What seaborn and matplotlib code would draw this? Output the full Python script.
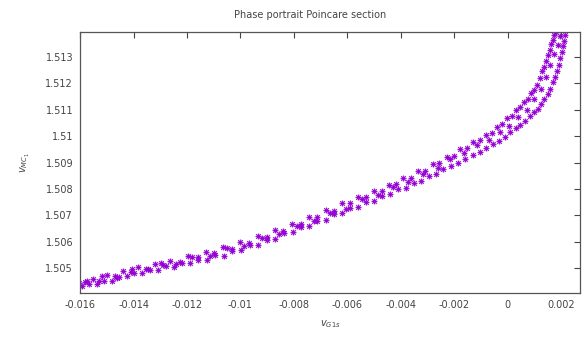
import matplotlib
matplotlib.use("Agg")
import matplotlib.pyplot as plt
import seaborn as sns
import pandas as pd

upper_x = [-0.01605, -0.01580, -0.01552, -0.01530, -0.01498, -0.01470, -0.01441, -0.01410, -0.01385, -0.01352,
           -0.01320, -0.01290, -0.01262, -0.01228, -0.01195, -0.01160, -0.01130, -0.01098, -0.01065, -0.01030,
           -0.01000, -0.00968, -0.00935, -0.00902, -0.00870, -0.00840, -0.00808, -0.00775, -0.00742, -0.00712,
           -0.00680, -0.00650, -0.00618, -0.00590, -0.00560, -0.00530, -0.00500, -0.00472, -0.00445, -0.00418,
           -0.00390, -0.00362, -0.00335, -0.00308, -0.00280, -0.00255, -0.00228, -0.00202, -0.00178, -0.00152,
           -0.00128, -0.00105, -0.00082, -0.00060, -0.00040, -0.00020, -0.00002, 0.00015, 0.00032, 0.00048,
           0.00062, 0.00075, 0.00088, 0.00100, 0.00110, 0.00120, 0.00130, 0.00138, 0.00145, 0.00152,
           0.00158, 0.00164, 0.00170, 0.00175, 0.00180]
upper_y = [1.50442, 1.50446, 1.50458, 1.50452, 1.50474, 1.50468, 1.50490, 1.50484, 1.50503, 1.50498,
           1.50515, 1.50510, 1.50528, 1.50522, 1.50544, 1.50540, 1.50560, 1.50556, 1.50578, 1.50572,
           1.50597, 1.50594, 1.50620, 1.50616, 1.50644, 1.50641, 1.50668, 1.50667, 1.50693, 1.50692,
           1.50719, 1.50718, 1.50745, 1.50745, 1.50769, 1.50768, 1.50793, 1.50793, 1.50816, 1.50817,
           1.50840, 1.50842, 1.50866, 1.50869, 1.50893, 1.50897, 1.50921, 1.50926, 1.50950, 1.50954,
           1.50978, 1.50984, 1.51006, 1.51013, 1.51036, 1.51046, 1.51068, 1.51078, 1.51100, 1.51112,
           1.51130, 1.51142, 1.51163, 1.51176, 1.51195, 1.51220, 1.51246, 1.51264, 1.51285, 1.51308,
           1.51328, 1.51350, 1.51366, 1.51382, 1.51395]

lower_x = [-0.01592, -0.01565, -0.01538, -0.01510, -0.01482, -0.01455, -0.01425, -0.01398, -0.01368, -0.01340,
           -0.01310, -0.01280, -0.01250, -0.01220, -0.01188, -0.01158, -0.01125, -0.01095, -0.01062, -0.01030,
           -0.00998, -0.00965, -0.00935, -0.00902, -0.00870, -0.00838, -0.00805, -0.00775, -0.00742, -0.00712,
           -0.00680, -0.00650, -0.00618, -0.00590, -0.00560, -0.00530, -0.00500, -0.00470, -0.00440, -0.00412,
           -0.00382, -0.00352, -0.00325, -0.00296, -0.00268, -0.00240, -0.00212, -0.00185, -0.00158, -0.00130,
           -0.00105, -0.00080, -0.00055, -0.00032, -0.00010, 0.00010, 0.00030, 0.00048, 0.00065, 0.00082,
           0.00098, 0.00112, 0.00125, 0.00138, 0.00150, 0.00160, 0.00170, 0.00178, 0.00186, 0.00192,
           0.00198, 0.00204, 0.00208, 0.00212, 0.00216]
lower_y = [1.50430, 1.50438, 1.50440, 1.50452, 1.50452, 1.50466, 1.50468, 1.50480, 1.50482, 1.50494,
           1.50492, 1.50506, 1.50505, 1.50520, 1.50518, 1.50532, 1.50530, 1.50548, 1.50547, 1.50566,
           1.50567, 1.50588, 1.50588, 1.50608, 1.50611, 1.50632, 1.50636, 1.50656, 1.50659, 1.50680,
           1.50682, 1.50703, 1.50707, 1.50727, 1.50731, 1.50750, 1.50755, 1.50774, 1.50780, 1.50798,
           1.50805, 1.50822, 1.50831, 1.50848, 1.50858, 1.50874, 1.50886, 1.50900, 1.50913, 1.50928,
           1.50941, 1.50955, 1.50969, 1.50982, 1.50997, 1.51014, 1.51029, 1.51043, 1.51059, 1.51075,
           1.51090, 1.51103, 1.51121, 1.51141, 1.51160, 1.51180, 1.51205, 1.51226, 1.51246, 1.51270,
           1.51295, 1.51318, 1.51340, 1.51362, 1.51384]

mid_x = [-0.01575, -0.01520, -0.01462, -0.01405, -0.01345, -0.01298, -0.01240, -0.01180, -0.01115, -0.01050,
         -0.00985, -0.00920, -0.00855, -0.00790, -0.00725, -0.00665, -0.00605, -0.00545, -0.00485, -0.00430,
         -0.00372, -0.00318, -0.00262, -0.00215, -0.00165, -0.00115, -0.00070, -0.00030, 0.00005, 0.00040,
         0.00072, 0.00100, 0.00125, 0.00145, 0.00160, 0.00175, 0.00188, 0.00196]
mid_y = [1.50452, 1.50468, 1.50462, 1.50495, 1.50497, 1.50520, 1.50514, 1.50540, 1.50545, 1.50575,
         1.50585, 1.50615, 1.50628, 1.50660, 1.50680, 1.50708, 1.50725, 1.50760, 1.50775, 1.50808,
         1.50828, 1.50858, 1.50880, 1.50912, 1.50935, 1.50965, 1.50985, 1.51015, 1.51040, 1.51072,
         1.51100, 1.51140, 1.51180, 1.51225, 1.51270, 1.51310, 1.51345, 1.51380]

x_ticks = [-0.016, -0.014, -0.012, -0.01, -0.008, -0.006, -0.004, -0.002, 0, 0.002]
x_tick_labels = ["-0.016", "-0.014", "-0.012", "-0.01", "-0.008", "-0.006", "-0.004", "-0.002", "0", "0.002"]
y_ticks = [1.505, 1.506, 1.507, 1.508, 1.509, 1.51, 1.511, 1.512, 1.513]
y_tick_labels = ["1.505", "1.506", "1.507", "1.508", "1.509", "1.51", "1.511", "1.512", "1.513"]

df = pd.DataFrame({"x": upper_x + lower_x + mid_x, "y": upper_y + lower_y + mid_y})

sns.set_theme(style="white")
plt.rcParams['font.family'] = ['DejaVu Sans']

fig = plt.figure(figsize=(5.85, 3.4), dpi=100)
ax = fig.add_axes([0.137, 0.138, 0.854, 0.768])

color = "#9400D3"
sns.scatterplot(data=df, x="x", y="y", ax=ax, marker="+", s=18, color=color, linewidth=0.9, alpha=0.9)
sns.scatterplot(data=df, x="x", y="y", ax=ax, marker="x", s=11, color=color, linewidth=0.9, alpha=0.9)

ax.set_xlim(-0.016, 0.0027)
ax.set_ylim(1.50405, 1.51395)
ax.set_xticks(x_ticks)
ax.set_xticklabels(x_tick_labels)
ax.set_yticks(y_ticks)
ax.set_yticklabels(y_tick_labels)
ax.tick_params(direction="in", length=4, width=0.8, top=True, right=True,
               labelsize=7, colors="#444444", labelcolor="#444444", pad=5)
for s in ax.spines.values():
    s.set_color("#555555")
    s.set_linewidth(0.9)

ax.set_xlabel(r"$v_{G1s}$", fontsize=7, color="#444444", labelpad=6)
ax.set_ylabel(r"$v_{MC_1}$", fontsize=7, color="#444444", labelpad=10)
fig.text(0.53, 0.955, "Phase portrait Poincare section", ha="center", va="center",
         fontsize=7, color="#444444")

fig.savefig("out.png", dpi=100)
